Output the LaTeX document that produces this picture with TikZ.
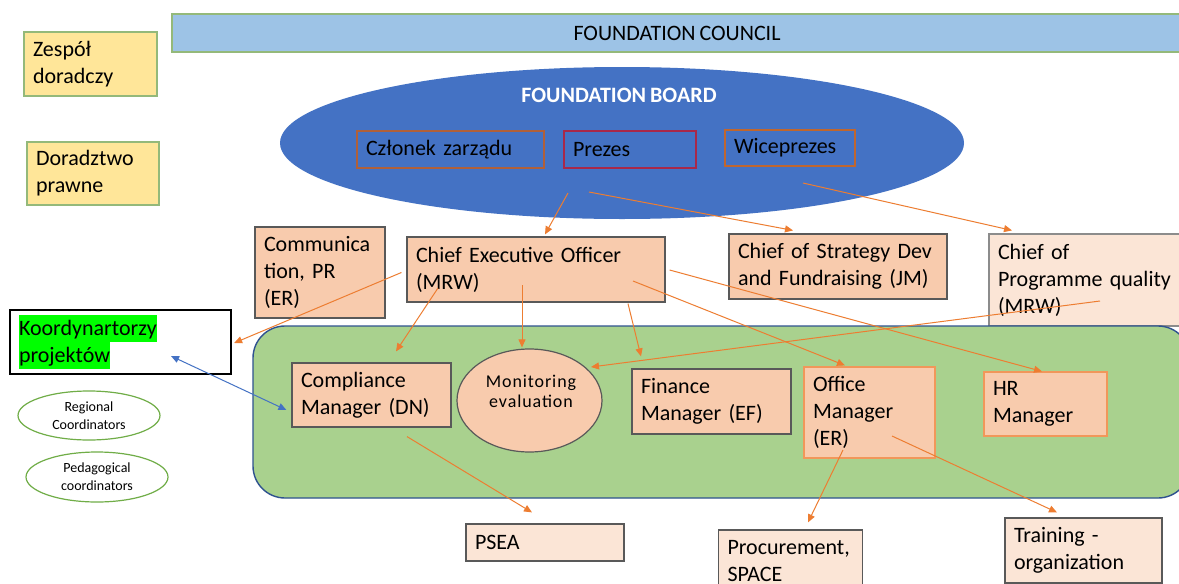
\documentclass[tikz,border=0pt]{standalone}
\usepackage{fontspec}
\setmainfont[WordSpace=0.8]{Carlito}
\newfontfamily\monfont[LetterSpace=5]{Carlito}
\usetikzlibrary{arrows.meta,shapes.geometric,calc}

\definecolor{cblue}{HTML}{9DC3E6}
\definecolor{cborder}{HTML}{94B97A}
\definecolor{cyellow}{HTML}{FFE699}
\definecolor{boardc}{HTML}{4472C4}
\definecolor{peach}{HTML}{F8CBAD}
\definecolor{lpeach}{HTML}{FBE5D6}
\definecolor{dgray}{HTML}{595959}
\definecolor{mgray}{HTML}{8C8C8C}
\definecolor{orangeA}{HTML}{ED7D31}
\definecolor{greenbg}{HTML}{A9D18E}
\definecolor{greenbd}{HTML}{2F528F}
\definecolor{ellgreen}{HTML}{70AD47}
\definecolor{hlgreen}{HTML}{00FF00}
\definecolor{bdbrown}{HTML}{B0603A}
\definecolor{bdred}{HTML}{A8284A}
\definecolor{bdorange}{HTML}{C0662E}
\definecolor{linkblue}{HTML}{4472C4}

\newcommand\hlbox[1]{{\setlength\fboxsep{0pt}\colorbox{hlgreen}{\rule[-3.5pt]{0pt}{13.5pt}#1}}}

\tikzset{
  bx/.style={draw=dgray, fill=peach, line width=0.6pt, rectangle, align=left, inner xsep=4.5pt, inner ysep=0pt},
  lbx/.style={bx, fill=lpeach},
  obx/.style={bx, draw=orangeA!80},
  bd/.style={draw, rectangle, align=left, line width=0.6pt, inner xsep=4.5pt, inner ysep=0pt},
  yb/.style={draw=cborder, fill=cyellow, line width=0.8pt, rectangle, align=left, inner xsep=4.5pt, inner ysep=0pt},
  smell/.style={ellipse, draw=ellgreen, fill=white, line width=0.6pt, inner sep=0pt, align=center, font=\fontsize{7}{9}\selectfont},
  arr/.style={draw=orangeA, line width=0.5pt, -{Triangle[length=4pt,width=3.5pt]}},
  barr/.style={draw=linkblue, line width=0.5pt, {Triangle[length=4pt,width=3.5pt]}-{Triangle[length=4pt,width=3.5pt]}},
}

\begin{document}
\begin{tikzpicture}[x=0.5pt,y=-0.5pt, every node/.style={font=\fontsize{11}{13.5}\selectfont}]
\useasboundingbox (0,0) rectangle (1179,584);
\clip (0,0) rectangle (1179,584);
\fill[white] (0,0) rectangle (1179,584);

% top
\node[draw=cborder, fill=cblue, line width=0.8pt, minimum width=505pt, minimum height=19pt, inner sep=0pt] (council) at (677,33) {FOUNDATION COUNCIL};
\node[yb, text width=57.5pt, minimum height=32pt] (zespol) at (90.5,64) {Zespół\\doradczy};
\node[yb, text width=57pt, minimum height=31.5pt] (dorad) at (93,173.5) {Doradztwo\\prawne};

% board
\node[ellipse, fill=boardc, minimum width=342pt, minimum height=76pt, inner sep=0pt] (board) at (622,143) {};
\node[text=white, font=\bfseries\fontsize{11}{13.5}\selectfont, inner sep=0pt] (boardT) at (619,95) {FOUNDATION BOARD};
\node[bd, draw=bdbrown, text width=84.5pt, minimum height=18.5pt] (czlonek) at (450.5,149.5) {Członek zarządu};
\node[bd, draw=bdred, text width=57pt, minimum height=18.5pt] (prezes) at (630,149.5) {Prezes};
\node[bd, draw=bdorange, text width=56pt, minimum height=18pt] (wice) at (790,148) {Wiceprezes};

% second row
\node[bx, text width=56pt, minimum height=45.5pt] (comm) at (320,272.5) {Communica\\tion, PR\\(ER)};
\node[bx, text width=120pt, minimum height=32.5pt] (ceo) at (536,269.5) {Chief Executive Officer\\(MRW)};
\node[bx, text width=100pt, minimum height=32.5pt] (strat) at (838,266.5) {Chief of Strategy Dev\\\mbox{and Fundraising (JM)}};
\node[lbx, draw=mgray, text width=91.5pt, minimum height=46pt] (prog) at (1089.5,280) {Chief of\\\mbox{Programme quality}\\(MRW)};

% left
\node[draw=black, fill=white, line width=1.1pt, rectangle, align=left, inner xsep=4.5pt, inner ysep=0pt, text width=101.5pt, minimum height=32pt] (koord) at (120.5,342) {\hlbox{Koordynartorzy}\\\hlbox{projektów}};
\node[smell, minimum width=71pt, minimum height=24.5pt] (reg) at (89,415.5) {Regional\\Coordinators};
\node[smell, minimum width=71pt, minimum height=25pt] (ped) at (97,477) {Pedagogical\\coordinators};

% team area
\node[draw=greenbd, fill=greenbg, rounded corners=16pt, line width=0.7pt, minimum width=468.5pt, minimum height=86pt, inner sep=0pt] (team) at (721.5,412) {};
\node[bx, text width=70.5pt, minimum height=32pt] (comp) at (371.5,395) {Compliance\\Manager (DN)};
\node[ellipse, draw=dgray, fill=peach, line width=0.6pt, minimum width=72.5pt, minimum height=51.5pt, inner sep=0pt] (mon) at (529.5,400.5) {};
\node[font=\monfont\fontsize{9}{10}\selectfont, align=center, inner sep=0pt] (monT) at (531,391) {Monitoring\\evaluation};
\node[bx, text width=70.5pt, minimum height=32.5pt] (fin) at (711.5,401.5) {Finance\\Manager (EF)};
\node[obx, text width=56.5pt, minimum height=45.5pt] (office) at (869.5,412.5) {Office\\Manager\\(ER)};
\node[obx, text width=52.5pt, minimum height=32pt] (hr) at (1045.5,404) {HR\\Manager};

% bottom
\node[lbx, text width=70pt, minimum height=18.5pt] (psea) at (545,542.5) {PSEA};
\node[lbx, text width=63pt, minimum height=31.5pt] (proc) at (790.5,561.5) {\mbox{Procurement,}\\SPACE};
\node[lbx, text width=69.5pt, minimum height=32.5pt] (train) at (1083.5,550.5) {Training -\\organization};

% connectors
\draw[arr] ($(board.center)+(-54,50)$) -- ($(ceo.north)+(9,-2)$);
\draw[arr] ($(board.center)+(-33,49)$) -- ($(strat.north)+(-45,-3)$);
\draw[arr] ($(board.center)+(181,40)$) -- ($(prog.north)+(-77.5,-3)$);
\draw[arr] ($(ceo.west)+(-5,3)$) -- ($(koord.east)+(2,1)$);
\draw[arr] ($(ceo.center)+(-98,18.5)$) -- ($(comp.north)+(24.5,-11)$);
\draw[arr] ($(ceo.center)+(-14,15.5)$) -- ($(mon.north)+(-7.5,-1)$);
\draw[arr] ($(ceo.south)+(92,1)$) -- ($(fin.north)+(-70.5,-12)$);
\draw[arr] ($(ceo.center)+(97,11.5)$) -- ($(office.north)+(-24.5,-1)$);
\draw[arr] ($(ceo.east)+(4,0.5)$) -- ($(hr.north)+(-3.5,0)$);
\draw[arr] ($(prog.center)+(10.5,21)$) -- ($(mon.center)+(61.5,-33.5)$);
\draw[arr] ($(comp.south)+(35.5,9)$) -- ($(psea.north)+(-13,-11)$);
\draw[arr] ($(office.center)+(-26.5,37.5)$) -- ($(proc.north)+(17.5,-7)$);
\draw[arr] ($(office.center)+(22.5,23.5)$) -- ($(train.north)+(-26.5,-5)$);
\draw[barr] ($(koord.center)+(50.5,14)$) -- ($(comp.west)+(-5,15)$);
\end{tikzpicture}
\end{document}
